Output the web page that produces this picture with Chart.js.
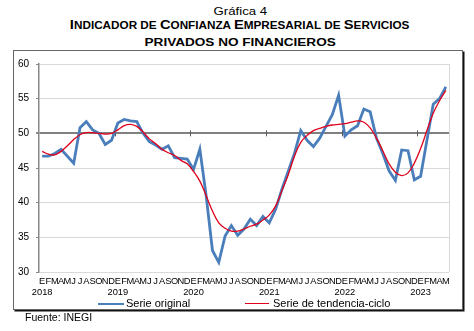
<!DOCTYPE html>
<html lang="es">
<head>
<meta charset="utf-8">
<script src="https://cdn.jsdelivr.net/npm/chart.js@4.4.1/dist/chart.umd.min.js"></script>
<style>
  body { margin: 0; width: 474px; height: 331px; background: #fff; position: relative; overflow: hidden;
         font-family: "Liberation Sans", Arial, sans-serif; color: #000; }
  .t { position: absolute; left: 3px; width: 474px; text-align: center; white-space: nowrap; }
  .t .w { display: inline-block; transform: scaleX(1.15); }
  #l1 { top: 5px; font-size: 11.5px; line-height: 12px; }
  #l2 { top: 18px; font-size: 10.2px; line-height: 13px; font-weight: bold; }
  #l2 .c { font-size: 12.8px; }
  #l3 { top: 36px; font-size: 11.8px; line-height: 12px; font-weight: bold; }
  #caja { position: absolute; left: 13px; top: 50px; width: 448px; height: 258px;
          border: 1px solid #666; box-shadow: 1.5px 1.5px 0 #111; background: #fff; }
  #caja canvas { position: absolute; left: 0; top: 0; }
  .ley { position: absolute; font-size: 11px; line-height: 11px; white-space: nowrap; }
  .ley i { position: absolute; height: 2.5px; }
  #fuente { position: absolute; left: 25px; top: 312px; font-size: 10.5px; line-height: 11px; }
</style>
</head>
<body>
<div class="t" id="l1"><span class="w">Gráfica 4</span></div>
<div class="t" id="l2"><span class="w"><span class="c">I</span>NDICADOR DE <span class="c">C</span>ONFIANZA <span class="c">E</span>MPRESARIAL DE <span class="c">S</span>ERVICIOS</span></div>
<div class="t" id="l3"><span class="w">PRIVADOS NO FINANCIEROS</span></div>

<div id="caja">
  <canvas id="grafica" width="448" height="258"></canvas>
  <div class="ley" style="left:84px;top:247px"><i style="left:0;top:4.5px;width:26px;background:#4a7ebb"></i><span style="margin-left:28px">Serie original</span></div>
  <div class="ley" style="left:231px;top:247px"><i style="left:0;top:4.5px;width:24px;background:#e0001b;height:1.8px"></i><span style="margin-left:28px">Serie de tendencia-ciclo</span></div>
</div>
<div id="fuente">Fuente: INEGI</div>

<script>
// Enero 2018 a mayo 2023, mensual
const letrasMes = ['E', 'F', 'M', 'A', 'M', 'J', 'J', 'A', 'S', 'O', 'N', 'D'];
const anios = ['2018', '2019', '2020', '2021', '2022', '2023'];
const totalMeses = 65;

const serieOriginal = [
    46.7, 46.7, 47.1, 47.7, 46.7, 45.7, 50.8, 51.7, 50.5, 50.0, 48.4, 49.0,
    51.5, 52.0, 51.8, 51.7, 50.0, 48.8, 48.3, 47.7, 48.2, 46.5, 46.4, 46.3,
    44.8, 47.7, 41.0, 33.1, 31.4, 35.2, 36.7, 35.3, 36.2, 37.6, 36.7, 38.0,
    37.1, 39.0, 41.9, 44.5, 47.1, 50.4, 49.0, 48.1, 49.3, 51.0, 52.7, 55.5,
    49.6, 50.5, 51.1, 53.5, 53.1, 49.3, 47.1, 44.6, 43.2, 47.6, 47.5, 43.3,
    43.8, 49.0, 54.2, 55.0, 56.7
];

const serieTendencia = [
    47.4, 47.0, 46.9, 47.4, 48.2, 49.1, 49.8, 50.1, 50.1, 50.0, 49.9, 50.0,
    50.5, 51.1, 51.3, 51.0, 50.2, 49.2, 48.5, 47.7, 47.2, 46.8, 46.1, 45.6,
    44.5, 43.1, 41.0, 38.8, 37.1, 36.3, 35.9, 35.9, 36.2, 36.6, 36.9, 37.5,
    38.2, 39.5, 41.7, 44.0, 46.7, 48.7, 49.7, 50.4, 50.7, 51.0, 51.2, 51.3,
    51.4, 51.6, 51.8, 51.6, 50.8, 49.3, 47.5, 45.6, 44.4, 43.9, 44.3, 45.7,
    47.8, 50.4, 52.9, 54.7, 56.2
];

// etiquetas: letra del mes, y el año bajo enero
const etiquetas = [];
for (let i = 0; i < totalMeses; i++) {
    const m = i % 12;
    etiquetas.push(m === 0 ? [letrasMes[m], anios[i / 12]] : letrasMes[m]);
}

// linea de cruce en 50 con marcas entre años, y borde derecho
const cruceEje = {
    id: 'cruceEje',
    beforeDatasetsDraw(chart) {
        const { ctx, chartArea, scales: { x, y } } = chart;
        const y50 = y.getPixelForValue(50);
        ctx.save();
        ctx.strokeStyle = '#d9d9d9';
        ctx.lineWidth = 1;
        ctx.beginPath();
        ctx.moveTo(chartArea.right + 0.5, chartArea.top);
        ctx.lineTo(chartArea.right + 0.5, chartArea.bottom);
        ctx.stroke();
        ctx.strokeStyle = '#595959';
        ctx.lineWidth = 1;
        for (let i = 12; i < totalMeses; i += 12) {
            const px = Math.round((x.getPixelForValue(i - 1) + x.getPixelForValue(i)) / 2) + 0.5;
            ctx.beginPath();
            ctx.moveTo(px, y50 - 3);
            ctx.lineTo(px, y50 + 3);
            ctx.stroke();
        }
        ctx.restore();
    }
};

const ctx = document.getElementById('grafica').getContext('2d');
new Chart(ctx, {
    type: 'line',
    data: {
        labels: etiquetas,
        datasets: [
            {
                label: 'Serie original',
                data: serieOriginal,
                borderColor: '#4a7ebb',
                backgroundColor: '#4a7ebb',
                borderWidth: 2.8,
                pointRadius: 0,
                tension: 0,
                order: 1
            },
            {
                label: 'Serie de tendencia-ciclo',
                data: serieTendencia,
                borderColor: '#e0001b',
                backgroundColor: '#e0001b',
                borderWidth: 1.3,
                pointRadius: 0,
                tension: 0.4,
                order: 0
            }
        ]
    },
    options: {
        responsive: false,
        animation: false,
        devicePixelRatio: 1,
        layout: { padding: { top: 10, right: 13, left: 0, bottom: 0 } },
        scales: {
            x: {
                offset: true,
                grid: { display: false, drawTicks: false },
                border: { display: false },
                ticks: {
                    autoSkip: false,
                    maxRotation: 0,
                    padding: 3,
                    color: '#000',
                    font: { family: 'Liberation Sans', size: 9.3, lineHeight: 1.28 }
                },
                afterFit(scale) { scale.height = 37; }
            },
            y: {
                min: 30,
                max: 60,
                ticks: {
                    stepSize: 5,
                    padding: 7,
                    color: '#000',
                    font: { family: 'Liberation Sans', size: 10 }
                },
                grid: {
                    color: c => (c.tick && c.tick.value === 50 ? '#808080' : '#d9d9d9'),
                    lineWidth: c => (c.tick && c.tick.value === 50 ? 2 : 1),
                    tickColor: '#888',
                    tickLength: 3
                },
                border: { color: '#888', width: 1.5 },
                afterFit(scale) { scale.width = 25; }
            }
        },
        plugins: {
            legend: { display: false },
            tooltip: { enabled: false }
        }
    },
    plugins: [cruceEje]
});
</script>
</body>
</html>
